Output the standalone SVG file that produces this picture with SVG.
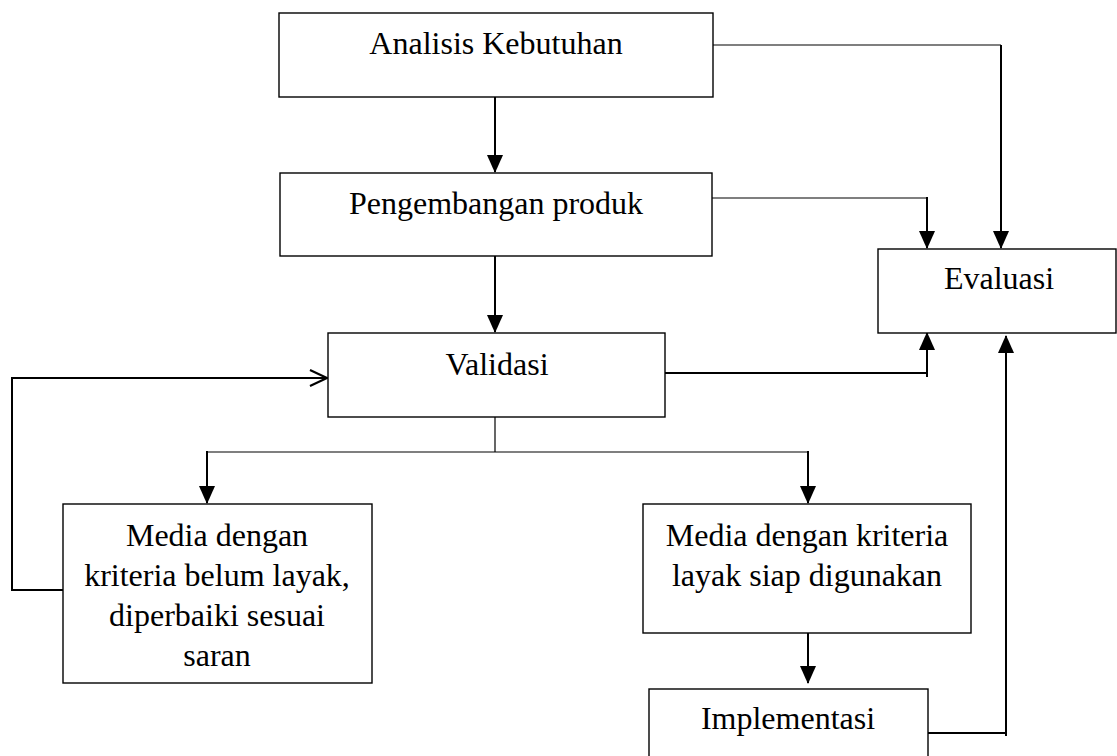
<svg xmlns="http://www.w3.org/2000/svg" width="1117" height="756" viewBox="0 0 1117 756">
<style>
.box{fill:#fff;stroke:#000;stroke-width:1.4}
.t{font-family:"Liberation Serif","Times New Roman",serif;font-size:32px;fill:#000;text-anchor:middle}
.c{fill:none;stroke:#000;stroke-width:2}
.c1{fill:none;stroke:#000;stroke-width:1.2}
</style>
<defs>
<marker id="ah" markerUnits="userSpaceOnUse" markerWidth="18" markerHeight="18" refX="17" refY="8" orient="auto" viewBox="0 0 18 16">
<path d="M0,0 L18,8 L0,16 Z" fill="#000"/>
</marker>
<marker id="open" markerUnits="userSpaceOnUse" markerWidth="20" markerHeight="20" refX="18" refY="10" orient="auto" viewBox="0 0 20 20">
<path d="M1,2 L18,10 L1,18" fill="none" stroke="#000" stroke-width="2.2"/>
</marker>
</defs>
<rect width="1117" height="756" fill="#fff"/>
<g id="connectors">
<line class="c" x1="495" y1="97" x2="495" y2="172" marker-end="url(#ah)"/>
<line class="c" x1="495" y1="256" x2="495" y2="332" marker-end="url(#ah)"/>
<polyline class="c1" points="713,45 1001,45"/>
<line class="c" x1="1001" y1="45" x2="1001" y2="248" marker-end="url(#ah)"/>
<polyline class="c1" points="712,198 927,198"/>
<line class="c" x1="927" y1="197" x2="927" y2="248" marker-end="url(#ah)"/>
<polyline class="c" points="665,373 927,373"/>
<line class="c" x1="927" y1="377" x2="927" y2="333" marker-end="url(#ah)"/>
<polyline class="c" points="928,733 1006,733"/>
<line class="c" x1="1006" y1="736" x2="1006" y2="336" marker-end="url(#ah)"/>
<polyline class="c1" points="495,417 495,452"/>
<polyline class="c1" points="207,452 808,452"/>
<line class="c" x1="207" y1="451" x2="207" y2="503" marker-end="url(#ah)"/>
<line class="c" x1="808" y1="451" x2="808" y2="503" marker-end="url(#ah)"/>
<line class="c" x1="808" y1="633" x2="808" y2="683" marker-end="url(#ah)"/>
<polyline class="c" points="63,590 12,590 12,378 327,378" marker-end="url(#open)"/>
</g>
<g id="analisis">
<rect class="box" x="279" y="13" width="434" height="84"/>
<text class="t" x="496" y="54">Analisis Kebutuhan</text>
</g>
<g id="pengembangan">
<rect class="box" x="280" y="173" width="432" height="83"/>
<text class="t" x="496" y="214">Pengembangan produk</text>
</g>
<g id="evaluasi">
<rect class="box" x="878" y="249" width="238" height="84"/>
<text class="t" x="999" y="289">Evaluasi</text>
</g>
<g id="validasi">
<rect class="box" x="328" y="333" width="337" height="84"/>
<text class="t" x="497" y="375">Validasi</text>
</g>
<g id="media-belum">
<rect class="box" x="63" y="504" width="309" height="179"/>
<text class="t" x="217" y="546">Media dengan</text>
<text class="t" x="217" y="586">kriteria belum layak,</text>
<text class="t" x="217" y="626">diperbaiki sesuai</text>
<text class="t" x="217" y="666">saran</text>
</g>
<g id="media-layak">
<rect class="box" x="643" y="504" width="328" height="129"/>
<text class="t" x="807" y="546">Media dengan kriteria</text>
<text class="t" x="807" y="586">layak siap digunakan</text>
</g>
<g id="implementasi">
<rect class="box" x="649" y="689" width="279" height="80"/>
<text class="t" x="788" y="729">Implementasi</text>
</g>
</svg>
